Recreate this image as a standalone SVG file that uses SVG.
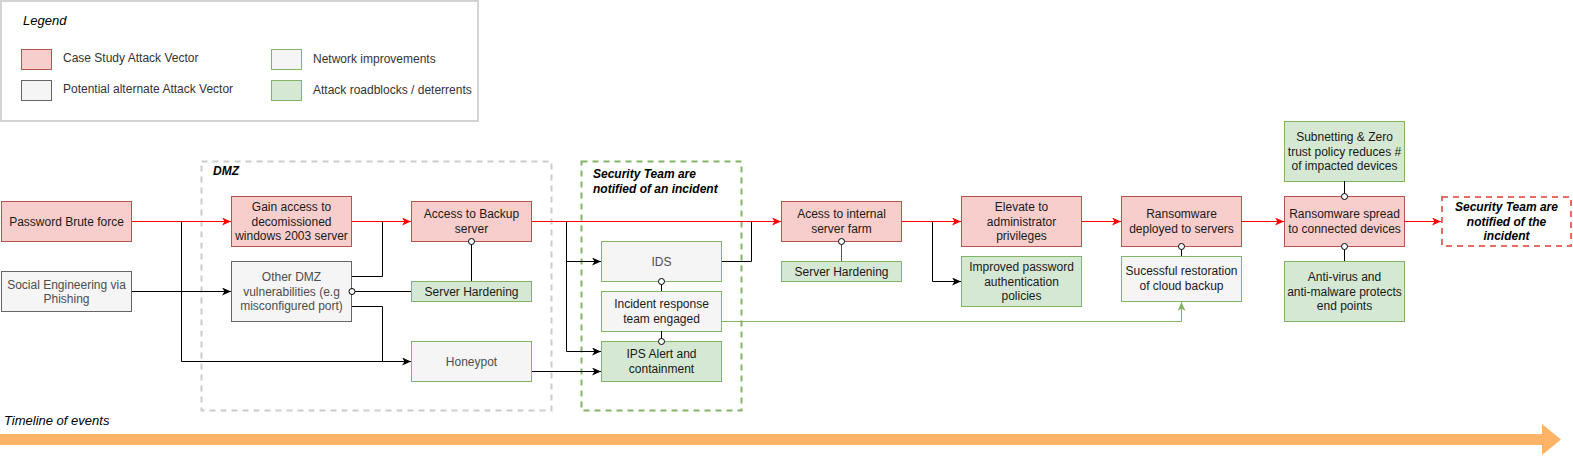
<svg xmlns="http://www.w3.org/2000/svg" width="1573" height="456" viewBox="0 0 1573 456">
<style>
text{font-family:"Liberation Sans",Arial,sans-serif;font-size:12px;}
.c{text-anchor:middle;}
.pink{fill:#f8cecc;stroke:#b85450;stroke-width:1;}
.gray{fill:#f5f5f5;stroke:#666666;stroke-width:1;}
.green{fill:#d5e8d4;stroke:#82b366;stroke-width:1;}
.net{fill:#f5f5f5;stroke:#82b366;stroke-width:1;}
.dk{fill:#1a1a1a;}
.lt{fill:#4d4d4d;}
.bi{font-weight:bold;font-style:italic;fill:#000;}
.e{fill:none;stroke:#000;stroke-width:1;}
.r{fill:none;stroke:#ff0000;stroke-width:1;}
.g{fill:none;stroke:#82b366;stroke-width:1;}
.ea{marker-end:url(#ab);}
.ra{marker-end:url(#ar);}
.ga{marker-end:url(#ag);}
.eo{marker-end:url(#ov);}
</style>
<defs>
<marker id="ab" markerUnits="userSpaceOnUse" markerWidth="9" markerHeight="8" viewBox="0 0 9 8" refX="9" refY="4" orient="auto"><path d="M0,0 L9,4 L0,8 L2.5,4 z" fill="#000"/></marker>
<marker id="ar" markerUnits="userSpaceOnUse" markerWidth="9" markerHeight="8" viewBox="0 0 9 8" refX="9" refY="4" orient="auto"><path d="M0,0 L9,4 L0,8 L2.5,4 z" fill="#ff0000"/></marker>
<marker id="ag" markerUnits="userSpaceOnUse" markerWidth="9" markerHeight="8" viewBox="0 0 9 8" refX="9" refY="4" orient="auto"><path d="M0,0 L9,4 L0,8 L2.5,4 z" fill="#82b366"/></marker>
<marker id="ov" markerUnits="userSpaceOnUse" markerWidth="8" markerHeight="8" viewBox="0 0 8 8" refX="4" refY="4" orient="auto"><circle cx="4" cy="4" r="3" fill="#fff" stroke="#000" stroke-width="1"/></marker>
</defs>
<rect width="1573" height="456" fill="#fff"/>

<g id="legend">
<rect x="1" y="1" width="477" height="120" fill="#fff" stroke="#d3d3d3" stroke-width="2"/>
<text x="23" y="25" style="font-style:italic;font-size:13px" fill="#000">Legend</text>
<rect x="21.5" y="49.5" width="30" height="20" class="pink"/>
<rect x="21.5" y="80.5" width="30" height="20" class="gray"/>
<rect x="271.5" y="49.5" width="30" height="20" class="net"/>
<rect x="271.5" y="80.5" width="30" height="20" class="green"/>
<text x="63" y="62" fill="#333">Case Study Attack Vector</text>
<text x="63" y="93" fill="#333">Potential alternate Attack Vector</text>
<text x="313" y="63" fill="#333">Network improvements</text>
<text x="313" y="94" fill="#333">Attack roadblocks / deterrents</text>
</g>

<g id="dmz">
<rect x="201.5" y="161.5" width="350" height="249" fill="none" stroke="#cccccc" stroke-width="2" stroke-dasharray="6 5"/>
<text x="213" y="175" class="bi">DMZ</text>
</g>
<g id="security-zone">
<rect x="581.5" y="161.5" width="160" height="249" fill="none" stroke="#82b366" stroke-width="2" stroke-dasharray="6 5"/>
<text x="593" y="178" class="bi">Security Team are</text>
<text x="593" y="193" class="bi">notified of an incident</text>
</g>

<g id="password-brute-force">
<rect x="1.5" y="201.5" width="130" height="40" class="pink"/>
<text x="66.5" y="225.5" class="c dk">Password Brute force</text>
</g>
<g id="social-engineering">
<rect x="1.5" y="271.5" width="130" height="40" class="gray"/>
<text x="66.5" y="288.5" class="c lt">Social Engineering via</text>
<text x="66.5" y="303" class="c lt">Phishing</text>
</g>
<g id="gain-access">
<rect x="231.5" y="196.5" width="120" height="50" class="pink"/>
<text x="291.5" y="211" class="c dk">Gain access to</text>
<text x="291.5" y="225.5" class="c dk">decomissioned</text>
<text x="291.5" y="240" class="c dk">windows 2003 server</text>
</g>
<g id="other-dmz">
<rect x="231.5" y="261.5" width="120" height="60" class="gray"/>
<text x="291.5" y="281" class="c lt">Other DMZ</text>
<text x="291.5" y="295.5" class="c lt">vulnerabilities (e.g</text>
<text x="291.5" y="310" class="c lt">misconfigured port)</text>
</g>
<g id="access-backup">
<rect x="411.5" y="201.5" width="120" height="40" class="pink"/>
<text x="471.5" y="218" class="c dk">Access to Backup</text>
<text x="471.5" y="232.5" class="c dk">server</text>
</g>
<g id="server-hardening-1">
<rect x="411.5" y="281.5" width="120" height="20" class="green"/>
<text x="471.5" y="295.5" class="c dk">Server Hardening</text>
</g>
<g id="honeypot">
<rect x="411.5" y="341.5" width="120" height="40" class="net"/>
<text x="471.5" y="365.5" class="c lt">Honeypot</text>
</g>
<g id="ids">
<rect x="601.5" y="241.5" width="120" height="40" class="net"/>
<text x="661.5" y="265.5" class="c lt">IDS</text>
</g>
<g id="incident-response">
<rect x="601.5" y="291.5" width="120" height="40" class="net"/>
<text x="661.5" y="308" class="c dk">Incident response</text>
<text x="661.5" y="322.5" class="c dk">team engaged</text>
</g>
<g id="ips-alert">
<rect x="601.5" y="341.5" width="120" height="40" class="green"/>
<text x="661.5" y="358" class="c dk">IPS Alert and</text>
<text x="661.5" y="372.5" class="c dk">containment</text>
</g>
<g id="internal-server-farm">
<rect x="781.5" y="201.5" width="120" height="40" class="pink"/>
<text x="841.5" y="218" class="c dk">Acess to internal</text>
<text x="841.5" y="232.5" class="c dk">server farm</text>
</g>
<g id="server-hardening-2">
<rect x="781.5" y="261.5" width="120" height="20" class="green"/>
<text x="841.5" y="275.5" class="c dk">Server Hardening</text>
</g>
<g id="elevate">
<rect x="961.5" y="196.5" width="120" height="50" class="pink"/>
<text x="1021.5" y="211" class="c dk">Elevate to</text>
<text x="1021.5" y="225.5" class="c dk">administrator</text>
<text x="1021.5" y="240" class="c dk">privileges</text>
</g>
<g id="improved-password">
<rect x="961.5" y="256.5" width="120" height="50" class="green"/>
<text x="1021.5" y="271" class="c dk">Improved password</text>
<text x="1021.5" y="285.5" class="c dk">authentication</text>
<text x="1021.5" y="300" class="c dk">policies</text>
</g>
<g id="ransomware-deployed">
<rect x="1121.5" y="196.5" width="120" height="50" class="pink"/>
<text x="1181.5" y="218" class="c dk">Ransomware</text>
<text x="1181.5" y="232.5" class="c dk">deployed to servers</text>
</g>
<g id="cloud-restore">
<rect x="1121.5" y="256.5" width="120" height="45" class="net"/>
<text x="1181.5" y="275" class="c dk">Sucessful restoration</text>
<text x="1181.5" y="289.5" class="c dk">of cloud backup</text>
</g>
<g id="ransomware-spread">
<rect x="1284.5" y="196.5" width="120" height="50" class="pink"/>
<text x="1344.5" y="218" class="c dk">Ransomware spread</text>
<text x="1344.5" y="232.5" class="c dk">to connected devices</text>
</g>
<g id="subnetting">
<rect x="1284.5" y="121.5" width="120" height="60" class="green"/>
<text x="1344.5" y="141" class="c dk">Subnetting &amp; Zero</text>
<text x="1344.5" y="155.5" class="c dk">trust policy reduces #</text>
<text x="1344.5" y="170" class="c dk">of impacted devices</text>
</g>
<g id="antivirus">
<rect x="1284.5" y="261.5" width="120" height="60" class="green"/>
<text x="1344.5" y="281" class="c dk">Anti-virus and</text>
<text x="1344.5" y="295.5" class="c dk">anti-malware protects</text>
<text x="1344.5" y="310" class="c dk">end points</text>
</g>
<g id="team-notified">
<rect x="1442" y="197" width="129" height="49" fill="#fff" stroke="#ea6b66" stroke-width="2" stroke-dasharray="6 5"/>
<text x="1506.5" y="211" class="c bi">Security Team are</text>
<text x="1506.5" y="225.5" class="c bi">notified of the</text>
<text x="1506.5" y="240" class="c bi">incident</text>
</g>

<g id="connectors">
<path class="r ra" d="M132,221.5 H231"/>
<path class="r ra" d="M352,221.5 H411"/>
<path class="r ra" d="M532,221.5 H781"/>
<path class="r ra" d="M902,221.5 H961"/>
<path class="r ra" d="M1082,221.5 H1121"/>
<path class="r ra" d="M1241,221.5 H1284"/>
<path class="r ra" d="M1404,221.5 H1441"/>
<path class="e ea" d="M132,291.5 H231"/>
<path class="e ea" d="M181.5,221.5 V361.5 H411"/>
<path class="e" d="M352,276.5 H382.5 V221.5"/>
<path class="e" d="M352,306.5 H382.5 V361.5"/>
<path class="e eo" d="M411,291.5 H352"/>
<path class="e eo" d="M471.5,281 V241.5"/>
<path class="e ea" d="M566.5,221.5 V261.5 H601"/>
<path class="e ea" d="M566.5,221.5 V351.5 H601"/>
<path class="e ea" d="M532,371.5 H601"/>
<path class="e" d="M722,261.5 H751.5 V221.5"/>
<path class="e eo" d="M661.5,291 V281.5"/>
<path class="e eo" d="M661.5,331 V341.5"/>
<path class="e eo" d="M841.5,261 V241.5" style="stroke:#555"/>
<path class="e ea" d="M932.5,221.5 V281.5 H961"/>
<path class="e eo" d="M1181.5,256 V246.5"/>
<path class="e eo" d="M1344.5,181 V196.5"/>
<path class="e eo" d="M1344.5,261 V246.5"/>
<path class="g ga" d="M722,321.5 H1181.5 V302"/>
</g>

<g id="timeline">
<text x="4" y="425" style="font-style:italic;font-size:13px" fill="#000">Timeline of events</text>
<polygon points="0,434 1542,434 1542,424 1561,439.5 1542,455 1542,445 0,445" fill="#ffb366"/>
</g>
</svg>
